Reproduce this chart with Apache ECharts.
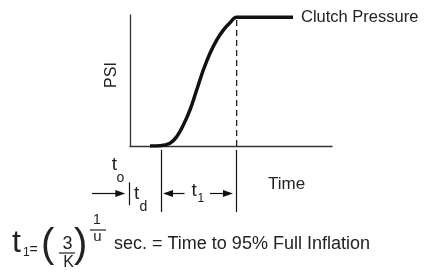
<!DOCTYPE html>
<html>
<head>
<meta charset="utf-8">
<script src="https://cdn.jsdelivr.net/npm/echarts@6/dist/echarts.min.js"></script>
<style>
  html, body { margin: 0; padding: 0; background: #fff; }
  #chart { width: 425px; height: 272px; }
</style>
</head>
<body>
<div id="chart"></div>
<script>
// pressure curve (time in % of axis, PSI in % of axis)
const curveX = [9.9, 14.9, 19.8, 23.1, 26.4, 29.7, 33.0, 36.3, 39.6, 42.9, 46.2, 49.5, 52.8, 80.7]
const curveY = [0, 0.2, 2.1, 7.1, 16.0, 27.5, 42.7, 58.0, 70.8, 80.9, 88.5, 94.1, 98.2, 98.2]
// marker positions on the time axis
const peakX = 52.8
const delayX = 15.3
const originX = -0.4
// arrows: [tail, head] on time axis, at arrowY in the lower band
const arrows = [[-18.8, -4.8], [27.0, 18.8], [39.6, 48.5]]
const arrowY = 3.0

const font = '"Liberation Sans", Arial, sans-serif'
const ink = '#111'
const textInk = '#222'

const chart = echarts.init(document.getElementById('chart'))

const seg = (a, b, head) => [
  { coord: a, symbol: 'none' },
  { coord: b, symbol: head ? 'triangle' : 'none' }
]

const markers = [
  seg([delayX, 0], [delayX, 10]),
  seg([peakX, 0], [peakX, 10]),
  seg([originX, 1.1], [originX, 4.8])
].concat(arrows.map(a => seg([a[0], arrowY], [a[1], arrowY], true)))

const txt = (x, y, text, size, align) => ({
  type: 'text',
  x: x,
  y: y,
  silent: true,
  style: {
    text: text,
    font: size + 'px ' + font,
    fill: textInk,
    align: align || 'left',
    verticalAlign: 'middle'
  }
})

const bar = (x1, x2, y) => ({
  type: 'line',
  silent: true,
  shape: { x1: x1, y1: y, x2: x2, y2: y },
  style: { stroke: textInk, lineWidth: 1.2 }
})

chart.setOption({
  animation: false,
  grid: [
    { left: 130, top: 15, width: 202, height: 131 },
    // lower band for the timing marks, same time scale, reaching left of the origin
    { left: 89.6, top: 150, width: 242.4, height: 62 }
  ],
  xAxis: [
    {
      gridIndex: 0, type: 'value', min: 0, max: 100,
      axisLine: { show: true, lineStyle: { color: '#333', width: 1.3 } },
      axisTick: { show: false }, axisLabel: { show: false }, splitLine: { show: false }
    },
    {
      gridIndex: 1, type: 'value', min: -20, max: 100, show: false
    }
  ],
  yAxis: [
    {
      gridIndex: 0, type: 'value', min: 0, max: 100,
      axisLine: { show: true, lineStyle: { color: '#333', width: 1.3 } },
      axisTick: { show: false }, axisLabel: { show: false }, splitLine: { show: false }
    },
    {
      gridIndex: 1, type: 'value', min: 0, max: 10, show: false
    }
  ],
  series: [
    {
      name: 'Clutch Pressure',
      type: 'line',
      xAxisIndex: 0, yAxisIndex: 0,
      data: curveX.map((x, i) => [x, curveY[i]]),
      smooth: 0.4,
      showSymbol: false,
      lineStyle: { color: ink, width: 3.5 },
      endLabel: {
        show: true,
        formatter: 'Clutch Pressure',
        distance: 8,
        color: textInk,
        fontSize: 16.5,
        fontFamily: font
      },
      silent: true,
      z: 3
    },
    {
      type: 'line',
      xAxisIndex: 0, yAxisIndex: 0,
      data: [[peakX, 0], [peakX, curveY[curveY.length - 1]]],
      showSymbol: false,
      lineStyle: { color: ink, width: 1.2, type: [6, 4] },
      silent: true,
      z: 1
    },
    {
      type: 'line',
      xAxisIndex: 1, yAxisIndex: 1,
      data: [],
      silent: true,
      markLine: {
        silent: true,
        animation: false,
        symbolSize: [7, 10],
        label: { show: false },
        lineStyle: { color: ink, width: 1.2, type: 'solid' },
        emphasis: { disabled: true },
        data: markers
      }
    }
  ],
  graphic: [
    Object.assign(txt(112, 75, 'PSI', 16, 'center'), { rotation: Math.PI / 2 }),
    txt(268, 184, 'Time', 17),
    txt(114.5, 164.5, 't', 19, 'center'),
    txt(120.5, 178, 'o', 14, 'center'),
    txt(134, 193.5, 't', 19),
    txt(139.5, 207, 'd', 14),
    txt(191.5, 190.5, 't', 19),
    txt(197.5, 199, '1', 12),
    // formula t1 = (3/K)^(1/u)
    txt(12, 243, 't', 32),
    txt(23, 253, '1', 12),
    txt(29.5, 250, '=', 14),
    txt(41, 245.5, '(', 40),
    txt(67.5, 243.7, '3', 18, 'center'),
    bar(59, 75, 253),
    txt(68.5, 262.4, 'K', 16, 'center'),
    txt(74, 245.5, ')', 40),
    txt(97, 220, '1', 14, 'center'),
    bar(90, 106, 230),
    txt(97.5, 236.8, 'u', 15, 'center'),
    txt(114, 243.7, 'sec. = Time to 95% Full Inflation', 18)
  ]
})
</script>
</body>
</html>
